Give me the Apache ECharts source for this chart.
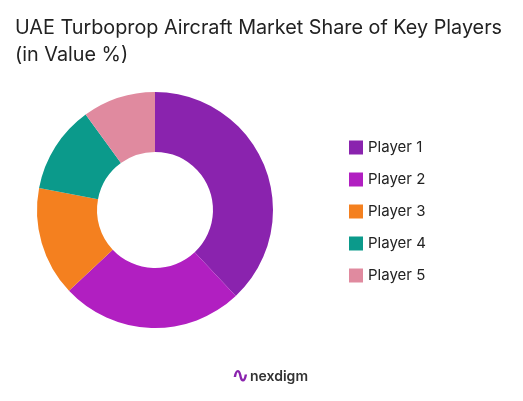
<!DOCTYPE html>
<html><head><meta charset="utf-8">
<script src="https://cdn.jsdelivr.net/npm/echarts@6/dist/echarts.min.js"></script>
<style>html,body{margin:0;padding:0;background:#fff}#c{width:523px;height:401px}</style>
</head><body><div id="c"></div>
<script>
const categories = ["Player 1","Player 2","Player 3","Player 4","Player 5"];
const shares = [38,25,15,12,10];
const colors = ["#8A23AE","#B11FC1","#F4801F","#0B9A8B","#E08A9F"];
const chart = echarts.init(document.getElementById('c'));
chart.setOption({
  animation:false,
  color:colors,
  title:{text:"UAE Turboprop Aircraft Market Share of Key Players\n(in Value %)",left:10,top:10,
    textStyle:{fontFamily:"Inter",fontWeight:"normal",fontSize:19.8,color:"#222",lineHeight:27}},
  legend:{orient:"vertical",left:344,top:135,itemGap:17,itemWidth:14,itemHeight:14,icon:"rect",
    textStyle:{fontFamily:"Inter",fontSize:15,color:"#222"},data:categories},
  graphic:[{type:"text",left:250,top:370,style:{text:"nexdigm",font:"600 14px Inter",fill:"#333"}},
           {type:"text",left:232,top:366,style:{text:"∿",font:"bold 20px Inter",fill:"#8A23AE"}}],
  series:[{type:"pie",center:[155,210],radius:[58,118],startAngle:90,clockwise:true,
    label:{show:false},labelLine:{show:false},
    data:categories.map((n,i)=>({name:n,value:shares[i]}))}]
});
</script></body></html>
